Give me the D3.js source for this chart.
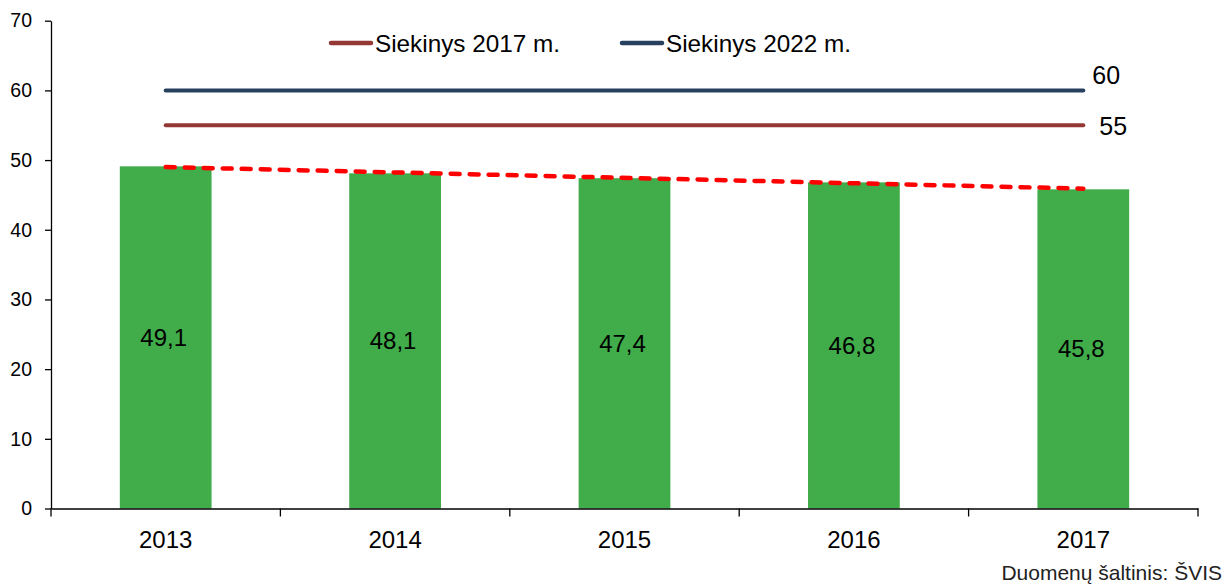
<!DOCTYPE html>
<html>
<head>
<meta charset="utf-8">
<script src="https://cdn.jsdelivr.net/npm/d3@7"></script>
<style>
  body { margin: 0; background: #fff; }
  svg { display: block; font-family: "Liberation Sans", Arial, sans-serif; }
  .axis text { fill: #000; }
  .axis path, .axis line { stroke: #000; stroke-width: 1.3; }
</style>
</head>
<body>
<svg id="chart"></svg>
<script>
// ─── Data ─────────────────────────────────────────────────────────────────────
const years      = ["2013", "2014", "2015", "2016", "2017"];
const values     = [49.1, 48.1, 47.4, 46.8, 45.8];
const valueText  = ["49,1", "48,1", "47,4", "46,8", "45,8"];
const yTicks     = [0, 10, 20, 30, 40, 50, 60, 70];
const targets    = [
  { name: "Siekinys 2017 m.", value: 55, color: "#953735" },
  { name: "Siekinys 2022 m.", value: 60, color: "#27405f" }
];
// trend line (first and last year)
const trend      = [{ year: "2013", value: 49.0 }, { year: "2017", value: 45.9 }];
const sourceText = "Duomenų šaltinis: ŠVIS";

// ─── Setup ────────────────────────────────────────────────────────────────────
const W = 1226, H = 585;
const svg = d3.select("#chart").attr("width", W).attr("height", H);

const x = d3.scaleBand().domain(years).range([51, 1198]).padding(0);
const y = d3.scaleLinear().domain([0, 70]).range([508.5, 20.7]);
const cx = d => x(d) + x.bandwidth() / 2;
const barW = x.bandwidth() * 0.4;

// ─── Bars ─────────────────────────────────────────────────────────────────────
svg.append("g").selectAll("rect")
  .data(years)
  .join("rect")
  .attr("x", d => cx(d) - barW / 2)
  .attr("width", barW)
  .attr("y", (d, i) => y(values[i]))
  .attr("height", (d, i) => y(0) - y(values[i]))
  .attr("fill", "#41ac4a");

// ─── Axes ─────────────────────────────────────────────────────────────────────
svg.append("g")
  .attr("class", "axis")
  .attr("transform", `translate(${x.range()[0]},0)`)
  .call(d3.axisLeft(y).tickValues(yTicks).tickSize(6).tickSizeOuter(0).tickPadding(13))
  .call(g => g.selectAll("text").style("font-size", "19.5px"));

const xAxis = svg.append("g")
  .attr("class", "axis")
  .attr("transform", `translate(0,${y(0)})`)
  .call(d3.axisBottom(x).tickSize(0).tickSizeOuter(0).tickPadding(22))
  .call(g => g.selectAll("text").style("font-size", "24px"));

// tick marks sit on the category boundaries
xAxis.selectAll("line.boundary")
  .data(d3.range(years.length + 1))
  .join("line")
  .attr("class", "boundary")
  .attr("x1", i => x.range()[0] + i * x.step())
  .attr("x2", i => x.range()[0] + i * x.step())
  .attr("y1", 0).attr("y2", 8);

// ─── Target lines ─────────────────────────────────────────────────────────────
const first = years[0], last = years[years.length - 1];
svg.append("g").selectAll("line")
  .data(targets)
  .join("line")
  .attr("x1", cx(first)).attr("x2", cx(last))
  .attr("y1", d => y(d.value)).attr("y2", d => y(d.value))
  .attr("stroke", d => d.color)
  .attr("stroke-width", 4)
  .attr("stroke-linecap", "round");

// value labels at the right end of the target lines
svg.append("g").selectAll("text")
  .data(targets)
  .join("text")
  .attr("x", d => cx(last) + (d.value === 60 ? 9 : 16))
  .attr("y", d => y(d.value) + (d.value === 60 ? -6.5 : 10))
  .style("font-size", "25px")
  .text(d => d.value);

// ─── Trend line ───────────────────────────────────────────────────────────────
svg.append("path")
  .datum(trend)
  .attr("fill", "none")
  .attr("stroke", "#ff0000")
  .attr("stroke-width", 4.5)
  .attr("stroke-linecap", "round")
  .attr("stroke-dasharray", "9,10")
  .attr("d", d3.line().x(d => cx(d.year)).y(d => y(d.value)));

// ─── Bar labels ───────────────────────────────────────────────────────────────
svg.append("g").selectAll("text")
  .data(years)
  .join("text")
  .attr("x", d => cx(d) - 2)
  .attr("y", (d, i) => y(values[i] / 2))
  .attr("dy", "0.35em")
  .attr("text-anchor", "middle")
  .style("font-size", "24px")
  .text((d, i) => valueText[i]);

// ─── Legend ───────────────────────────────────────────────────────────────────
const legendX = [329, 620];
const legend = svg.append("g").selectAll("g")
  .data(targets)
  .join("g")
  .attr("transform", (d, i) => `translate(${legendX[i]},43)`);

legend.append("line")
  .attr("x1", 2).attr("x2", 42)
  .attr("stroke", d => d.color)
  .attr("stroke-width", 4.5)
  .attr("stroke-linecap", "round");

legend.append("text")
  .attr("x", 46)
  .attr("y", 9)
  .style("font-size", "24.3px")
  .text(d => d.name);

// ─── Source ───────────────────────────────────────────────────────────────────
svg.append("text")
  .attr("x", 1222)
  .attr("y", 580)
  .attr("text-anchor", "end")
  .style("font-size", "21px")
  .attr("fill", "#222")
  .text(sourceText);
</script>
</body>
</html>
